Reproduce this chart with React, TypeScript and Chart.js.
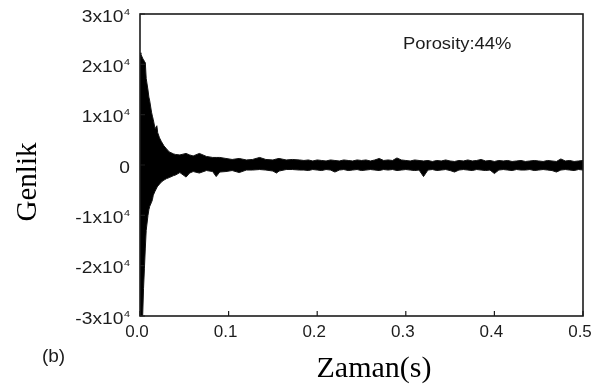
import React, { useEffect, useRef } from "react";
import { Chart, registerables } from "chart.js";

Chart.register(...registerables);

// time axis (s)
const timeS = [
  0, 0.001, 0.003, 0.004, 0.005, 0.006, 0.007, 0.009, 0.01, 0.011, 0.013, 0.014, 0.015, 0.017, 0.019,
  0.02, 0.022, 0.024, 0.027, 0.03, 0.033, 0.038, 0.04, 0.045, 0.052, 0.056, 0.06, 0.067, 0.075, 0.082,
  0.086, 0.09, 0.097, 0.104, 0.112, 0.12, 0.127, 0.135, 0.142, 0.15, 0.154, 0.157, 0.165, 0.172, 0.18,
  0.185, 0.19, 0.195, 0.2, 0.205, 0.21, 0.215, 0.22, 0.225, 0.23, 0.235, 0.24, 0.245, 0.25, 0.255, 0.26,
  0.265, 0.27, 0.275, 0.28, 0.285, 0.29, 0.295, 0.3, 0.305, 0.31, 0.315, 0.32, 0.325, 0.33, 0.335, 0.34,
  0.345, 0.35, 0.355, 0.36, 0.365, 0.37, 0.375, 0.38, 0.385, 0.39, 0.395, 0.4, 0.405, 0.41, 0.415, 0.42,
  0.425, 0.43, 0.435, 0.44, 0.445, 0.45, 0.455, 0.46, 0.465, 0.47, 0.475, 0.48, 0.485, 0.49, 0.495, 0.5,
];

// upper envelope of the amplitude (x10^4)
const upperEnvelope = [
  2.23, 2.2, 2.12, 2.09, 2.06, 2.03, 1.72, 1.49, 1.35, 1.27, 1.05, 0.97, 0.9, 0.72, 0.78,
  0.64, 0.54, 0.47, 0.38, 0.32, 0.26, 0.22, 0.21, 0.2, 0.23, 0.2, 0.18, 0.23, 0.17, 0.15,
  0.15, 0.15, 0.13, 0.11, 0.13, 0.1, 0.11, 0.15, 0.11, 0.1, 0.12, 0.13, 0.1, 0.11, 0.1,
  0.09, 0.1, 0.08, 0.1, 0.09, 0.08, 0.1, 0.09, 0.08, 0.1, 0.09, 0.08, 0.1, 0.09, 0.1, 0.08,
  0.1, 0.13, 0.09, 0.1, 0.09, 0.14, 0.1, 0.09, 0.08, 0.1, 0.09, 0.08, 0.09, 0.07, 0.09, 0.08,
  0.1, 0.08, 0.07, 0.09, 0.08, 0.1, 0.08, 0.09, 0.11, 0.08, 0.09, 0.07, 0.09, 0.08, 0.09, 0.07,
  0.08, 0.09, 0.07, 0.08, 0.09, 0.08, 0.07, 0.09, 0.08, 0.07, 0.12, 0.08, 0.09, 0.07, 0.08, 0.09,
];

// lower envelope of the amplitude (x10^4)
const lowerEnvelope = [
  -3.0, -3.0, -3.0, -2.45, -2.05, -1.65, -1.3, -1.0, -0.89, -0.82, -0.74, -0.69, -0.6, -0.52, -0.45,
  -0.42, -0.38, -0.34, -0.3, -0.27, -0.25, -0.21, -0.2, -0.15, -0.24, -0.16, -0.13, -0.16, -0.11, -0.13,
  -0.23, -0.14, -0.13, -0.11, -0.15, -0.1, -0.1, -0.09, -0.1, -0.12, -0.16, -0.12, -0.09, -0.09, -0.1,
  -0.1, -0.11, -0.09, -0.1, -0.11, -0.09, -0.1, -0.14, -0.1, -0.09, -0.11, -0.1, -0.09, -0.11, -0.1, -0.09,
  -0.1, -0.11, -0.09, -0.1, -0.09, -0.11, -0.1, -0.09, -0.1, -0.11, -0.1, -0.23, -0.1, -0.09, -0.11, -0.1,
  -0.09, -0.11, -0.14, -0.1, -0.09, -0.1, -0.11, -0.09, -0.1, -0.11, -0.1, -0.17, -0.1, -0.09, -0.1, -0.11,
  -0.09, -0.1, -0.1, -0.09, -0.11, -0.1, -0.09, -0.1, -0.11, -0.14, -0.1, -0.09, -0.1, -0.11, -0.09, -0.1,
];

const xTickValues = [0, 0.1, 0.2, 0.3, 0.4, 0.5];
const xTickLabels = ["0.0", "0.1", "0.2", "0.3", "0.4", "0.5"];
const yTickValues = [3, 2, 1, 0, -1, -2, -3];
const yTickMantissa = ["3x10", "2x10", "1x10", "0", "-1x10", "-2x10", "-3x10"];
const yTickExponent = ["4", "4", "4", "", "4", "4", "4"];

const yTitle = "Genlik";
const xTitle = "Zaman(s)";
const panelLabel = "(b)";
const annotationText = "Porosity:44%";

export default function App() {
  const ref = useRef<HTMLCanvasElement>(null);

  useEffect(() => {
    const canvas = ref.current;
    if (!canvas) return;

    const decor = {
      id: "decor",
      afterDraw(chart: any) {
        const ctx = chart.ctx as CanvasRenderingContext2D;
        const area = chart.chartArea;
        const xs = chart.scales.x;
        const ys = chart.scales.y;
        const ink = "#1c1c1c";
        ctx.save();

        // frame
        ctx.strokeStyle = ink;
        ctx.lineWidth = 1.6;
        ctx.strokeRect(area.left, area.top, area.right - area.left, area.bottom - area.top);

        // inward ticks
        ctx.lineWidth = 1.2;
        ctx.beginPath();
        xTickValues.forEach((v) => {
          const px = xs.getPixelForValue(v);
          ctx.moveTo(px, area.bottom);
          ctx.lineTo(px, area.bottom - 5);
        });
        yTickValues.forEach((v) => {
          const py = ys.getPixelForValue(v);
          ctx.moveTo(area.left, py);
          ctx.lineTo(area.left + 5, py);
        });
        ctx.stroke();

        ctx.fillStyle = ink;
        ctx.textBaseline = "alphabetic";

        // x tick labels
        ctx.font = "17px 'Liberation Sans', Arial, sans-serif";
        ctx.textAlign = "center";
        xTickValues.forEach((v, i) => {
          const px = xs.getPixelForValue(v);
          ctx.fillText(xTickLabels[i], px - 3, 337);
        });

        // y tick labels (mantissa + superscript exponent), right aligned
        const sx = 1.2;
        ctx.textAlign = "left";
        yTickValues.forEach((v, i) => {
          const py = ys.getPixelForValue(v);
          ctx.font = "16px 'Liberation Sans', Arial, sans-serif";
          const mw = ctx.measureText(yTickMantissa[i]).width;
          ctx.font = "9px 'Liberation Sans', Arial, sans-serif";
          const ew = yTickExponent[i] ? ctx.measureText(yTickExponent[i]).width + 0.5 : 0;
          const total = (mw + ew) * sx;
          const x0 = 130 - total;
          const base = py + 7.5;
          ctx.save();
          ctx.translate(x0, base);
          ctx.scale(sx, 1);
          ctx.font = "16px 'Liberation Sans', Arial, sans-serif";
          ctx.fillText(yTickMantissa[i], 0, 0);
          if (yTickExponent[i]) {
            ctx.font = "9px 'Liberation Sans', Arial, sans-serif";
            ctx.fillText(yTickExponent[i], mw + 0.5, -7);
          }
          ctx.restore();
        });

        // annotation
        ctx.save();
        ctx.translate(403, 48.5);
        ctx.scale(1.15, 1);
        ctx.font = "16px 'Liberation Sans', Arial, sans-serif";
        ctx.fillText(annotationText, 0, 0);
        ctx.restore();

        // panel label
        ctx.font = "19px 'Liberation Sans', Arial, sans-serif";
        ctx.textAlign = "center";
        ctx.fillText(panelLabel, 53.5, 362);

        // axis titles
        ctx.fillStyle = "#000";
        ctx.font = "30px 'Liberation Serif', 'Times New Roman', serif";
        ctx.textAlign = "center";
        ctx.fillText(xTitle, 374, 377);

        ctx.save();
        ctx.translate(36, 182);
        ctx.rotate(-Math.PI / 2);
        ctx.font = "29px 'Liberation Serif', 'Times New Roman', serif";
        ctx.fillText(yTitle, 0, 0);
        ctx.restore();

        ctx.restore();
      },
    };

    const chart = new Chart(canvas, {
      type: "line",
      data: {
        datasets: [
          {
            data: timeS.map((t, i) => ({ x: t, y: upperEnvelope[i] })),
            borderColor: "#111",
            borderWidth: 1,
            pointRadius: 0,
            tension: 0,
            fill: false,
          },
          {
            data: timeS.map((t, i) => ({ x: t, y: lowerEnvelope[i] })),
            borderColor: "#111",
            borderWidth: 1,
            pointRadius: 0,
            tension: 0,
            fill: "-1",
            backgroundColor: "#000",
          },
        ],
      },
      options: {
        animation: false,
        responsive: false,
        events: [],
        layout: { padding: { left: 140, top: 14, right: 17, bottom: 76 } },
        plugins: { legend: { display: false }, tooltip: { enabled: false } },
        scales: {
          x: { type: "linear", min: 0, max: 0.5, display: false },
          y: { type: "linear", min: -3, max: 3, display: false },
        },
      },
      plugins: [decor],
    });

    return () => chart.destroy();
  }, []);

  return (
    <div style={{ position: "fixed", left: 0, top: 0, width: 600, height: 392, background: "#fff" }}>
      <canvas ref={ref} width={600} height={392} style={{ display: "block" }} />
    </div>
  );
}
